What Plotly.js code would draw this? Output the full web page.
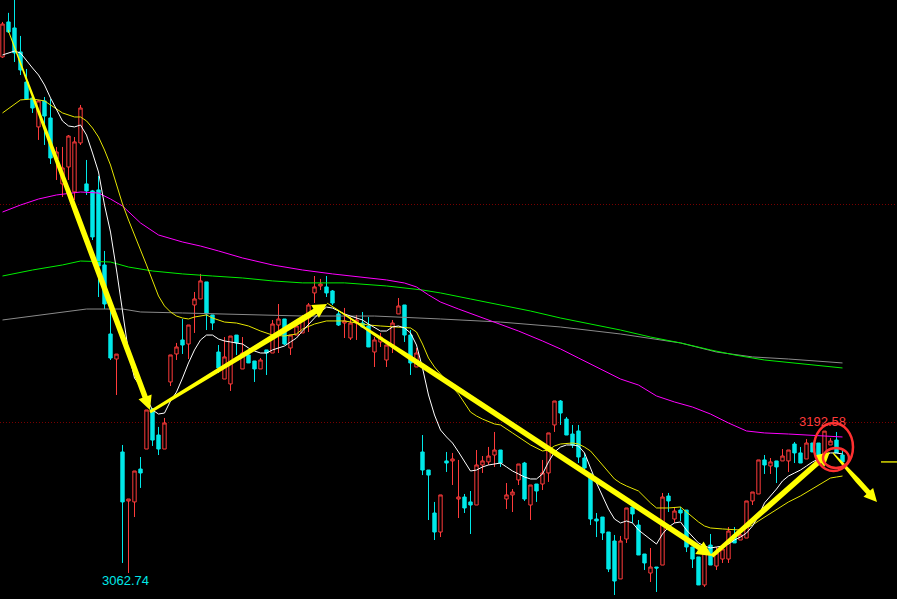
<!DOCTYPE html>
<html><head><meta charset="utf-8">
<script src="https://cdn.plot.ly/plotly-3.0.1.min.js"></script>
<style>html,body{margin:0;padding:0;background:#000;overflow:hidden}#chart{width:897px;height:599px}</style>
</head><body><div id="chart"></div>
<script>
// ---- candle data (price units) ----
const openP = [3534.6,3566.6,3561.1,3539.2,3511.7,3497.1,3470.6,3494.4,3478.8,3441.3,
3418.5,3434.0,3411.2,3456.0,3418.5,3412.1,3413.0,3344.4,3281.3,3258.4,
3173.4,3128.6,3127.7,3157.8,3176.1,3212.7,3188.9,3176.1,3237.4,3263.0,
3275.8,3272.1,3307.8,3313.3,3328.9,3298.7,3264.8,3240.1,3235.6,3280.3,
3249.3,3262.1,3256.6,3249.3,3266.7,3263.9,3289.5,3295.0,3268.5,3280.3,
3282.2,3295.9,3318.8,3325.2,3324.3,3320.6,3299.6,3291.3,3277.6,3291.3,
3291.3,3288.6,3264.8,3274.0,3257.5,3271.2,3299.6,3307.8,3280.3,3251.1,
3173.4,3156.9,3117.6,3100.2,3165.2,3165.2,3130.4,3132.2,3127.7,3124.9,
3161.5,3164.3,3170.6,3175.2,3130.4,3134.1,3147.8,3163.3,3124.9,3144.1,
3144.1,3154.2,3198.1,3220.0,3203.5,3189.8,3192.6,3167.9,3153.3,3112.1,
3113.9,3100.2,3092.0,3057.3,3093.8,3123.1,3106.6,3080.1,3062.7,3068.2,
3070.0,3133.1,3112.1,3120.3,3120.3,3086.5,3077.4,3051.8,3088.3,3069.1,
3075.5,3075.5,3097.5,3092.9,3094.7,3128.6,3135.0,3166.1,3160.6,3165.2,
3165.2,3165.2,3180.7,3172.5,3167.0,3181.6,3181.6,3171.5,3179.8,3184.3,
3170.6];
const highP = [3566.6,3574.9,3590.0,3553.8,3523.6,3498.0,3495.3,3498.0,3496.2,3452.3,
3452.3,3463.2,3461.4,3490.7,3440.4,3413.0,3425.8,3357.2,3308.7,3263.0,
3179.8,3130.4,3156.0,3168.8,3211.8,3213.6,3196.3,3204.5,3262.1,3273.1,
3295.0,3289.5,3319.7,3336.2,3328.9,3298.7,3271.2,3278.5,3279.4,3280.3,
3278.5,3264.8,3256.6,3259.3,3266.7,3294.1,3308.7,3295.0,3280.3,3294.1,
3298.7,3309.6,3334.3,3331.6,3334.3,3321.5,3302.3,3305.1,3296.8,3298.7,
3301.4,3296.8,3278.5,3282.2,3271.2,3294.1,3314.2,3307.8,3284.9,3268.5,
3188.9,3156.9,3127.7,3134.1,3173.4,3172.5,3166.1,3135.0,3137.7,3175.2,
3169.7,3178.0,3191.7,3175.2,3145.0,3139.5,3162.4,3164.3,3143.2,3144.1,
3166.1,3190.8,3220.0,3220.9,3205.4,3198.1,3198.1,3172.5,3153.3,3117.6,
3113.9,3100.2,3097.5,3096.6,3122.2,3127.7,3111.2,3080.1,3085.6,3068.2,
3135.9,3135.9,3123.1,3123.1,3120.3,3086.5,3077.4,3084.7,3098.4,3086.5,
3089.3,3104.8,3104.8,3103.9,3128.6,3136.8,3166.1,3170.6,3167.9,3165.2,
3176.1,3175.2,3182.5,3178.0,3185.2,3181.6,3181.6,3192.58,3186.1,3191.7,
3175.2];
const lowP = [3533.7,3556.5,3530.0,3518.1,3495.3,3483.4,3458.7,3454.1,3436.7,3422.1,
3406.6,3422.1,3403.8,3454.1,3408.4,3367.2,3315.1,3304.1,3257.5,3225.5,
3071.9,3062.74,3113.9,3140.5,3176.1,3178.9,3170.6,3176.1,3233.7,3257.5,
3263.0,3258.4,3282.2,3313.3,3284.9,3284.9,3245.6,3240.1,3229.2,3262.1,
3249.3,3254.8,3237.4,3249.3,3243.8,3263.9,3263.9,3271.2,3262.1,3280.3,
3282.2,3283.1,3309.6,3321.5,3315.1,3307.8,3288.6,3277.6,3275.8,3275.8,
3286.8,3269.4,3251.1,3269.4,3251.1,3263.9,3299.6,3274.0,3243.8,3251.1,
3152.3,3111.2,3092.9,3095.6,3155.1,3143.2,3113.0,3117.6,3098.4,3124.9,
3154.2,3161.5,3159.7,3159.7,3121.2,3118.5,3143.2,3128.6,3111.2,3127.7,
3138.6,3146.0,3191.7,3198.1,3188.9,3177.0,3163.3,3155.1,3106.6,3095.6,
3092.9,3063.6,3042.6,3057.3,3090.2,3108.5,3079.2,3065.5,3054.5,3045.4,
3070.0,3118.5,3108.5,3110.3,3081.9,3067.3,3051.8,3050.0,3070.0,3065.5,
3071.9,3071.9,3090.2,3092.9,3094.7,3124.9,3135.0,3153.3,3153.3,3145.0,
3165.2,3155.1,3163.3,3163.3,3167.0,3173.4,3168.8,3171.5,3179.8,3172.5,
3164.3];
const closeP = [3564.7,3557.5,3538.3,3522.7,3496.2,3487.9,3494.4,3480.6,3442.2,3447.7,
3433.1,3462.3,3456.9,3487.9,3412.1,3370.0,3343.5,3308.7,3259.3,3262.9,
3127.7,3130.4,3156.0,3154.2,3211.8,3184.3,3176.1,3199.9,3262.1,3269.4,
3271.2,3289.5,3313.3,3329.8,3299.6,3291.3,3250.2,3260.3,3279.4,3273.1,
3263.9,3254.8,3249.3,3257.5,3263.9,3290.4,3295.0,3272.1,3280.3,3288.6,
3296.8,3307.8,3324.3,3327.0,3318.8,3309.6,3289.5,3293.2,3291.3,3294.1,
3287.7,3269.4,3275.8,3278.5,3271.2,3291.3,3306.9,3280.3,3254.8,3263.9,
3156.9,3152.3,3100.2,3134.1,3163.3,3167.0,3132.2,3122.2,3124.9,3161.5,
3165.2,3169.7,3175.2,3163.3,3134.1,3136.8,3162.4,3130.4,3143.2,3137.7,
3154.2,3190.8,3220.0,3209.0,3188.9,3179.8,3168.8,3158.8,3112.1,3110.3,
3099.3,3066.4,3055.4,3092.0,3122.2,3116.7,3079.2,3071.9,3068.2,3067.3,
3132.2,3128.6,3119.4,3117.6,3086.5,3075.5,3051.8,3084.7,3070.0,3081.0,
3084.7,3101.1,3090.2,3097.5,3128.6,3136.8,3166.1,3161.5,3164.3,3159.7,
3169.7,3175.2,3172.5,3163.3,3181.6,3173.4,3168.8,3192.5,3183.4,3172.5,
3164.3];

// ---- moving averages ----
const ma5 = [3536.4,3538.2,3540.0,3538.2,3530.9,3524.5,3518.1,3509.0,3497.1,3486.1,
3476.0,3471.5,3470.6,3472.4,3463.2,3446.8,3429.4,3399.2,3374.5,3339.8,
3301.4,3264.8,3241.0,3233.7,3222.8,3211.8,3208.1,3209.0,3220.0,3228.2,
3241.0,3254.8,3266.7,3275.8,3280.3,3280.3,3276.7,3274.9,3274.0,3273.1,
3272.1,3268.5,3265.7,3263.9,3263.9,3266.7,3268.5,3270.3,3274.0,3277.6,
3284.0,3290.4,3295.9,3301.4,3305.9,3305.0,3302.3,3299.6,3297.7,3295.9,
3294.1,3290.4,3286.8,3284.0,3284.0,3287.7,3288.6,3286.8,3282.2,3271.2,
3250.2,3225.5,3207.2,3193.5,3187.1,3181.6,3173.4,3164.3,3156.0,3156.9,
3159.7,3161.5,3162.4,3163.3,3159.7,3156.0,3153.3,3150.5,3148.7,3148.7,
3153.3,3164.3,3173.4,3177.9,3179.8,3179.8,3178.9,3172.5,3158.8,3145.0,
3133.1,3121.2,3112.1,3108.5,3110.3,3108.5,3102.0,3097.5,3093.8,3089.2,
3098.4,3104.8,3108.5,3109.4,3102.0,3095.6,3090.2,3087.4,3085.6,3086.5,
3087.4,3089.2,3092.9,3095.6,3099.3,3105.7,3114.8,3126.8,3133.1,3139.5,
3146.9,3151.4,3154.2,3156.9,3160.6,3164.3,3167.0,3170.6,3172.5,3172.5,3171.5];

const ma10Idx = [0,2,3,5,7,8,10,12,13,14,15,16,17,18,19,20,21,22,23,24,25,26,27,28,29,30,31,32,34,35,37,39,41,43,45,47,49,50,52,54,57,59,61,63,66,68,69,70,71,72,73,74,75,76,77,78,79,80,82,83,85,86,88,90,91,92,93,95,96,97,98,99,100,101,102,103,104,106,107,108,109,111,113,114,115,116,117,118,120,122,123,124,125,126,127,128,129,131,133,135,137,138,139,140];
const ma10Val = [3483.4,3491.6,3495.3,3496.2,3494.4,3490.7,3483.4,3479.7,3479.7,3476.1,3469.6,3461.4,3449.5,3435.8,3417.5,3400.1,3385.5,3370.9,3358.1,3344.4,3330.7,3316.0,3306.9,3301.4,3297.7,3295.9,3295.0,3296.8,3298.7,3295.9,3292.2,3291.3,3288.6,3284.0,3280.3,3279.4,3281.3,3285.8,3290.4,3293.2,3293.2,3291.3,3289.5,3288.6,3287.7,3286.8,3283.1,3272.1,3259.3,3251.1,3244.7,3238.3,3232.8,3226.4,3218.2,3209.9,3206.3,3203.5,3199.0,3198.1,3190.8,3187.1,3179.8,3174.3,3175.2,3178.9,3180.7,3181.6,3180.7,3177.9,3174.3,3167.9,3161.5,3155.1,3148.7,3145.0,3142.3,3137.7,3132.2,3126.8,3122.2,3122.2,3123.1,3118.5,3113.9,3109.4,3105.7,3103.9,3103.0,3102.0,3102.0,3103.9,3106.6,3110.3,3113.9,3116.7,3120.3,3127.7,3133.2,3139.5,3145.9,3149.6,3150.5,3151.4];

const ma60Idx = [0,3,6,9,13,16,18,20,23,26,30,33,36,40,45,50,55,60,64,67,69,71,73,76,80,83,86,90,93,96,100,103,106,109,112,115,118,121,124,127,131,135,138,140];
const ma60Val = [3392.8,3399.2,3404.7,3408.4,3411.1,3410.2,3404.7,3398.3,3382.8,3371.8,3365.4,3361.7,3357.2,3350.8,3344.4,3339.8,3336.2,3333.4,3330.7,3327.9,3324.3,3317.0,3310.5,3304.1,3295.9,3290.4,3284.0,3274.9,3267.6,3259.3,3248.4,3240.1,3234.6,3224.6,3219.1,3214.5,3208.1,3199.9,3192.6,3190.8,3189.8,3188.9,3188.0,3187.1];

const ma120Idx = [0,5,10,13,18,21,25,30,35,40,45,50,57,64,70,73,78,83,88,93,98,103,108,113,118,122,127,132,136,140];
const ma120Val = [3334.3,3339.8,3344.4,3348.0,3347.1,3342.5,3338.9,3336.2,3334.3,3332.5,3329.8,3328.0,3328.0,3325.2,3321.5,3318.8,3313.3,3307.8,3302.3,3295.9,3290.4,3284.9,3278.5,3273.1,3266.7,3262.1,3257.5,3254.8,3252.0,3250.2];

const ma250Idx = [0,5,10,14,20,23,30,38,50,62,70,73,83,93,103,113,119,125,131,140];
const ma250Val = [3294.1,3297.7,3301.4,3304.1,3304.1,3301.4,3300.5,3299.6,3297.7,3297.7,3295.9,3295.0,3292.2,3287.7,3281.3,3273.1,3264.8,3260.3,3258.4,3254.8];

// grid levels and marked extremes
const gridLevels = [3200, 3400];
const markHighIdx = 137, markHighText = '3192.58';
const markLowIdx = 21, markLowText = '3062.74';

// hand-drawn trend arrows (candle index, price)
const arrowFromX = [0.92, 24.58, 54.08, 118.25, 138.4];
const arrowFromY = [3559.3, 3210.0, 3309.6, 3078.3, 3172.5];
const arrowToX   = [24.58, 54.08, 118.25, 137.9, 145.75];
const arrowToY   = [3211.8, 3308.7, 3078.3, 3173.4, 3127.7];

// red circles (candle index / price bounds)
const circX0 = [135.25, 136.75], circX1 = [141.75, 141.08];
const circY0 = [3156.0, 3158.8], circY1 = [3199.9, 3177.0];

// ---- drawing ----
const W = 897, H = 599;
const xRange = [-0.4167, 149.0833];
const yRange = [3038.96, 3586.67];
const idx = closeP.map((_, i) => i);

function toPx(x, y) {
  return [(x - xRange[0]) / (xRange[1] - xRange[0]) * W, (yRange[1] - y) / (yRange[1] - yRange[0]) * H];
}
function toData(px, py) {
  return [xRange[0] + px / W * (xRange[1] - xRange[0]), yRange[1] - py / H * (yRange[1] - yRange[0])];
}
function arrowPath(sx, sy, ex, ey, st) {
  const [x0, y0] = toPx(sx, sy), [x1, y1] = toPx(ex, ey);
  const dx = x1 - x0, dy = y1 - y0, L = Math.hypot(dx, dy);
  const ux = dx / L, uy = dy / L, nx = -uy, ny = ux;
  const sL = L - st.hl;
  const bx = x0 + ux * sL, by = y0 + uy * sL;
  const tx = x0 + ux * sL * st.taper, ty = y0 + uy * sL * st.taper;
  const pts = [
    [x0 + nx * st.w0 / 2, y0 + ny * st.w0 / 2],
    [tx + nx * st.w1 / 2, ty + ny * st.w1 / 2],
    [bx + nx * st.w1 / 2, by + ny * st.w1 / 2],
    [bx + nx * st.hw, by + ny * st.hw],
    [x1, y1],
    [bx - nx * st.hw, by - ny * st.hw],
    [bx - nx * st.w1 / 2, by - ny * st.w1 / 2],
    [tx - nx * st.w1 / 2, ty - ny * st.w1 / 2],
    [x0 - nx * st.w0 / 2, y0 - ny * st.w0 / 2]
  ].map(p => toData(p[0], p[1]));
  return 'M' + pts.map(p => p[0].toFixed(4) + ',' + p[1].toFixed(3)).join(' L') + ' Z';
}
const arrowStyles = [
  {w0: 0.8, w1: 5.5, taper: 0.5, hl: 14, hw: 7},
  {w0: 3, w1: 6, taper: 0.9, hl: 14, hw: 7.5},
  {w0: 0.8, w1: 5.5, taper: 0.25, hl: 15, hw: 7.5},
  {w0: 4, w1: 5.5, taper: 0.5, hl: 14, hw: 7.5},
  {w0: 1.2, w1: 5, taper: 0.7, hl: 13, hw: 6.5}
];

const RED = '#ff3b3b', CYAN = '#00e8e8';
const traces = [
  {type: 'candlestick', x: idx, open: openP, high: highP, low: lowP, close: closeP,
   increasing: {line: {color: RED, width: 1}, fillcolor: '#000000'},
   decreasing: {line: {color: CYAN, width: 1}, fillcolor: CYAN},
   whiskerwidth: 0, hoverinfo: 'skip'},
  {type: 'scatter', mode: 'lines', x: ma250Idx, y: ma250Val, line: {color: '#8a8a8a', width: 1}, hoverinfo: 'skip'},
  {type: 'scatter', mode: 'lines', x: ma120Idx, y: ma120Val, line: {color: '#00ee00', width: 1}, hoverinfo: 'skip'},
  {type: 'scatter', mode: 'lines', x: ma60Idx, y: ma60Val, line: {color: '#ff00ff', width: 1}, hoverinfo: 'skip'},
  {type: 'scatter', mode: 'lines', x: ma10Idx, y: ma10Val, line: {color: '#e6e600', width: 1}, hoverinfo: 'skip'},
  {type: 'scatter', mode: 'lines', x: idx, y: ma5, line: {color: '#ffffff', width: 1}, hoverinfo: 'skip'}
];

const shapes = [];
arrowFromX.forEach((_, k) => {
  shapes.push({type: 'path', xref: 'x', yref: 'y', layer: 'above',
    path: arrowPath(arrowFromX[k], arrowFromY[k], arrowToX[k], arrowToY[k], arrowStyles[k]),
    fillcolor: '#ffff00', line: {width: 0}});
});
circX0.forEach((_, k) => {
  shapes.push({type: 'circle', xref: 'x', yref: 'y', layer: 'above',
    x0: circX0[k], x1: circX1[k], y0: circY0[k], y1: circY1[k],
    line: {color: '#ff3030', width: 2.5}, fillcolor: 'rgba(0,0,0,0)'});
});
shapes.push({type: 'line', xref: 'paper', yref: 'y', x0: 881 / 897, x1: 1,
  y0: closeP[closeP.length - 1], y1: closeP[closeP.length - 1],
  line: {color: '#d8d800', width: 1.5}});

const annotations = [
  {x: markHighIdx, y: highP[markHighIdx], xref: 'x', yref: 'y', text: markHighText, showarrow: false,
   xanchor: 'center', yanchor: 'bottom', xshift: -2.5, yshift: 0,
   font: {family: 'Liberation Sans, Arial, sans-serif', size: 13, color: RED}},
  {x: markLowIdx, y: lowP[markLowIdx], xref: 'x', yref: 'y', text: markLowText, showarrow: false,
   xanchor: 'center', yanchor: 'top', xshift: -3, yshift: 2,
   font: {family: 'Liberation Sans, Arial, sans-serif', size: 13, color: CYAN}}
];

const layout = {
  width: W, height: H, margin: {l: 0, r: 0, t: 0, b: 0, pad: 0},
  paper_bgcolor: '#000', plot_bgcolor: '#000', showlegend: false,
  boxgap: 0.2,
  xaxis: {range: xRange, showgrid: false, zeroline: false, showticklabels: false, showline: false,
          ticks: '', rangeslider: {visible: false}, fixedrange: true},
  yaxis: {range: yRange, tickvals: gridLevels, showgrid: true, gridcolor: '#780000', griddash: '1px,2px',
          gridwidth: 1, zeroline: false, showticklabels: false, showline: false, ticks: '', fixedrange: true},
  shapes: shapes, annotations: annotations
};
Plotly.newPlot('chart', traces, layout, {staticPlot: true, displayModeBar: false});
</script></body></html>
